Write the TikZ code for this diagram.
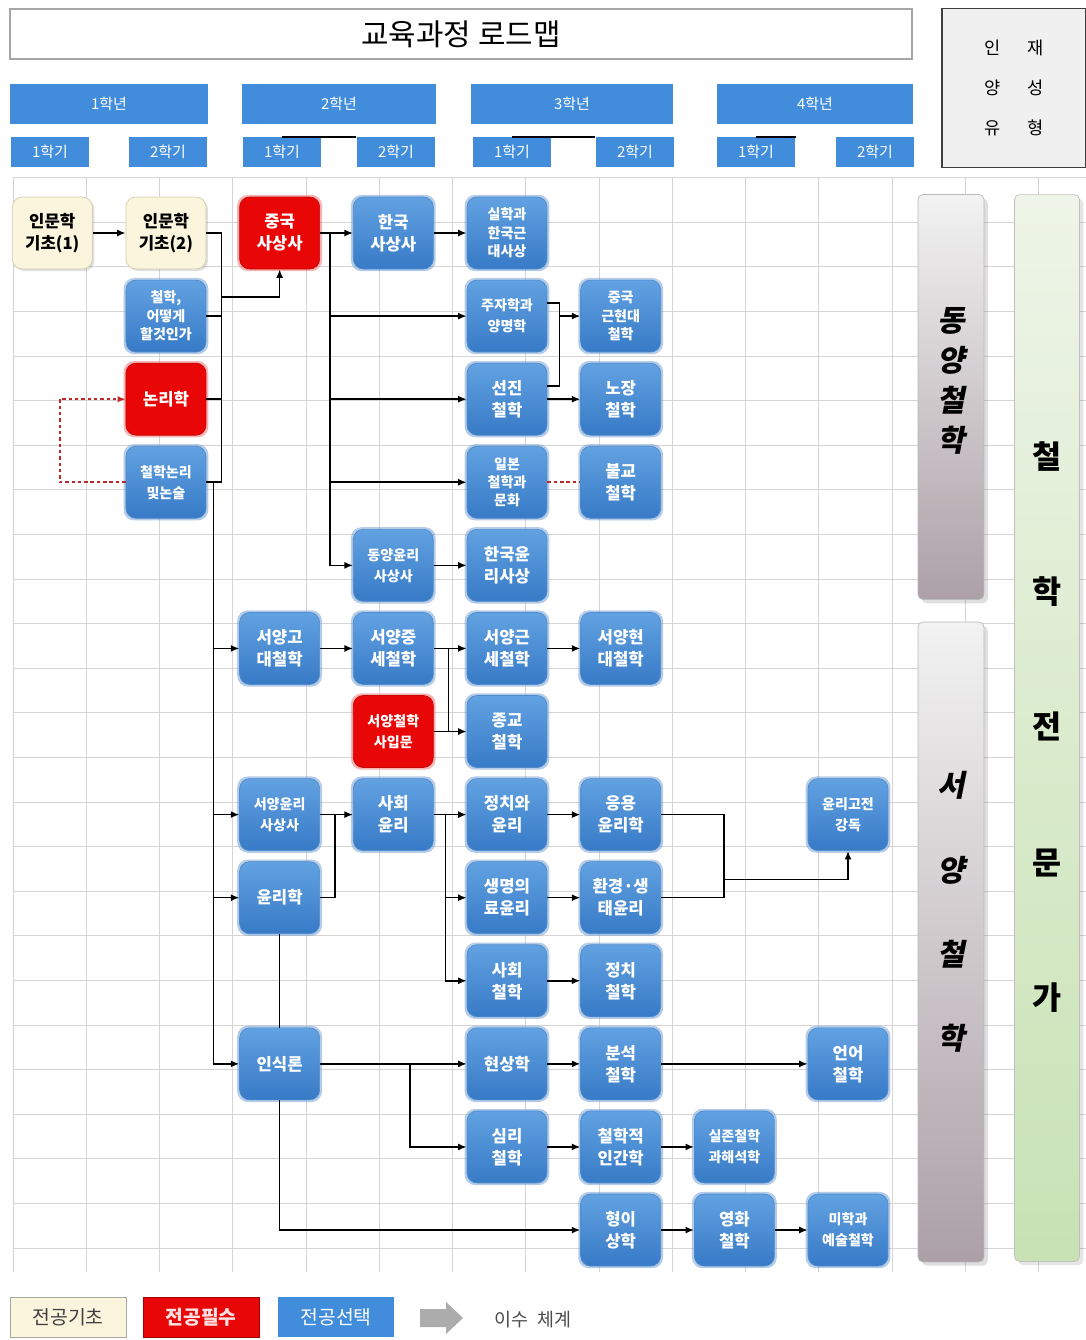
\documentclass[tikz,border=0pt]{standalone}
\usepackage{fontspec}
\newfontfamily\kr{Noto Sans CJK KR}
\newfontfamily\krslant[FakeSlant=0.2]{Noto Sans CJK KR}
\usepackage{tikz}
\usetikzlibrary{positioning,calc,shadows,arrows.meta}

\definecolor{courseTop}{RGB}{98,162,226}
\definecolor{courseBot}{RGB}{55,122,198}
\definecolor{courseEdge}{RGB}{80,140,205}
\definecolor{courseGlow}{RGB}{130,170,215}
\definecolor{reqRed}{RGB}{232,6,6}
\definecolor{reqGlow}{RGB}{240,130,130}
\definecolor{basicFill}{RGB}{251,245,222}
\definecolor{basicEdge}{RGB}{214,204,170}
\definecolor{hdrBlue}{RGB}{66,141,219}
\definecolor{gridGray}{RGB}{212,212,212}
\definecolor{barMauve}{RGB}{172,160,166}
\definecolor{expertTop}{RGB}{238,245,232}
\definecolor{expertBot}{RGB}{200,226,180}
\definecolor{dotRed}{RGB}{190,40,40}

\begin{document}
\begin{tikzpicture}[x=0.02cm, y=-0.02cm,
    node distance=0.208cm and 0.66cm,
    gridline/.style={draw=gridGray, line width=0.5pt},
    course/.style={rounded corners=2mm, minimum width=1.6cm, minimum height=1.44cm,
        inner sep=1pt, align=center, font=\kr\bfseries\fontsize{9.5}{12.5}\selectfont},
    elective/.style={course, top color=courseTop, bottom color=courseBot, draw=courseEdge,
        text=white, general shadow={fill=courseGlow, shadow scale=1.06, opacity=0.6}},
    required/.style={course, fill=reqRed, draw=reqRed!85!black, text=white,
        general shadow={fill=reqGlow, shadow scale=1.06, opacity=0.6}},
    basic/.style={course, fill=basicFill, draw=basicEdge, text=black,
        drop shadow={opacity=0.25, shadow xshift=0.4mm, shadow yshift=-0.4mm}},
    threeline/.style={font=\kr\bfseries\fontsize{8}{10.5}\selectfont},
    fourchar/.style={font=\kr\bfseries\fontsize{8}{12}\selectfont},
    hdr/.style={fill=hdrBlue, text=white, inner sep=0pt, font=\kr\fontsize{8.5}{8.5}\selectfont},
    groupbar/.style={rounded corners=1mm, minimum width=1.32cm, draw=gray!55,
        top color=gray!10, bottom color=barMauve, drop shadow={opacity=0.25}},
    grouplabel/.style={align=center, inner sep=0pt, font=\krslant\bfseries\fontsize{17}{22.7}\selectfont},
    legend/.style={minimum width=2.32cm, minimum height=0.8cm, inner sep=0pt,
        font=\kr\fontsize{11}{11}\selectfont},
    con/.style={line width=0.9pt},
    arr/.style={con, -{Latex[length=1.7mm, width=1.4mm]}},
    reddot/.style={draw=dotRed, line width=1.1pt, dash pattern=on 2pt off 1.6pt}
    ]
    \useasboundingbox (0,0) rectangle (1086,1340);
    \fill[white] (0,0) rectangle (1086,1340);

    % spreadsheet grid
    \foreach \gx in {0,...,14}
        \draw[gridline] ({13+73.25*\gx},178) -- ({13+73.25*\gx},1272);
    \foreach \gy in {0,...,24}
        \draw[gridline] (13,{177.6+44.6*\gy}) -- (1086,{177.6+44.6*\gy});

    % header
    \node (title) [draw=gray!70, line width=1pt, fill=white, minimum width=18.04cm, minimum height=1cm,
        font=\kr\fontsize{17}{17}\selectfont] at (461,34) {교육과정\ 로드맵};
    \node (talent) [draw=black!75, line width=1pt, fill=gray!12, minimum width=2.88cm, minimum height=3.18cm,
        align=center, font=\kr\fontsize{10}{22.7}\selectfont] at (1014,88)
        {인\hspace{15pt}재\\양\hspace{15pt}성\\유\hspace{15pt}형};
    \node (y1) [hdr, minimum width=3.96cm, minimum height=0.8cm] at (109,104) {1학년};
    \node (y2) [hdr, minimum width=3.88cm, minimum height=0.8cm] at (339,104) {2학년};
    \node (y3) [hdr, minimum width=4.04cm, minimum height=0.8cm] at (572,104) {3학년};
    \node (y4) [hdr, minimum width=3.92cm, minimum height=0.8cm] at (815,104) {4학년};
    \foreach \sx/\sname/\stext in {50/y1s1/1학기, 168/y1s2/2학기, 282/y2s1/1학기, 396/y2s2/2학기,
        512/y3s1/1학기, 635/y3s2/2학기, 756/y4s1/1학기, 875/y4s2/2학기}
        \node (\sname) [hdr, minimum width=1.58cm, minimum height=0.6cm] at (\sx,152) {\stext};
    \draw[line width=1pt] (y2s1.north) -- (y2s2.north west);
    \draw[line width=1pt] (y3s1.north) -- (y3s2.north west);
    \draw[line width=1pt] (y4s1.north) -- (y4s1.north east);

    % group bars on the right
    \node (eastbar) [groupbar, minimum height=8.1cm] at (951,397) {};
    \node (westbar) [groupbar, minimum height=12.8cm] at (951,942) {};
    \node (expertbar) [rounded corners=1mm, minimum width=1.3cm, minimum height=21.34cm, draw=gray!50,
        top color=expertTop, bottom color=expertBot, drop shadow={opacity=0.2}] at (1047,728) {};
    \node (east) [grouplabel] at (951,381) {동\\양\\철\\학};
    \node (west) [grouplabel, font=\krslant\bfseries\fontsize{17}{48}\selectfont] at (951,912) {서\\양\\철\\학};
    \node (expert) [align=center, inner sep=0pt, font=\kr\bfseries\fontsize{18}{77}\selectfont]
        at (1047,727) {철\\학\\전\\문\\가};

    % courses
    \node (silhak) [elective, threeline] at (507,233) {실학과\\한국근\\대사상};
    \node (hansa) [elective, left=of silhak] {한국\\사상사};
    \node (jungsa) [required, left=of hansa] {중국\\사상사};
    \node (inmun2) [basic, left=of jungsa] {인문학\\기초(2)};
    \node (inmun1) [basic, left=of inmun2] {인문학\\기초(1)};
    \node (ottoke) [elective, threeline, below=of inmun2] {철학,\\어떻게\\할것인가};
    \node (nonri) [required, below=of ottoke] {논리학};
    \node (nonsul) [elective, fourchar, below=of nonri] {철학논리\\및논술};
    \node (juja) [elective, fourchar, below=of silhak] {주자학과\\양명학};
    \node (jungkun) [elective, threeline, right=of juja] {중국\\근현대\\철학};
    \node (seonjin) [elective, below=of juja] {선진\\철학};
    \node (nojang) [elective, right=of seonjin] {노장\\철학};
    \node (ilbon) [elective, threeline, below=of seonjin] {일본\\철학과\\문화};
    \node (bulgyo) [elective, right=of ilbon] {불교\\철학};
    \node (hanyun) [elective, below=of ilbon] {한국윤\\리사상};
    \node (dongyun) [elective, fourchar, left=of hanyun] {동양윤리\\사상사};
    \node (segeun) [elective, below=of hanyun] {서양근\\세철학};
    \node (sejung) [elective, left=of segeun] {서양중\\세철학};
    \node (segodae) [elective, left=of sejung] {서양고\\대철학};
    \node (sehyun) [elective, right=of segeun] {서양현\\대철학};
    \node (jonggyo) [elective, below=of segeun] {종교\\철학};
    \node (seipmun) [required, fourchar, left=of jonggyo] {서양철학\\사입문};
    \node (jeongyun) [elective, below=of jonggyo] {정치와\\윤리};
    \node (sahoeyun) [elective, left=of jeongyun] {사회\\윤리};
    \node (seyun) [elective, fourchar, left=of sahoeyun] {서양윤리\\사상사};
    \node (eungyong) [elective, right=of jeongyun] {응용\\윤리학};
    \node (saengmyeong) [elective, below=of jeongyun] {생명의\\료윤리};
    \node (hwangyeong) [elective, right=of saengmyeong] {환경·생\\태윤리};
    \node (yunri) [elective, below=of seyun] {윤리학};
    \node (sahoecheol) [elective, below=of saengmyeong] {사회\\철학};
    \node (jeongcheol) [elective, right=of sahoecheol] {정치\\철학};
    \node (hyeonsang) [elective, below=of sahoecheol] {현상학};
    \node (bunseok) [elective, right=of hyeonsang] {분석\\철학};
    \node (insik) [elective] at (yunri |- hyeonsang) {인식론};
    \node (simri) [elective, below=of hyeonsang] {심리\\철학};
    \node (ingan) [elective, right=of simri] {철학적\\인간학};
    \node (siljon) [elective, fourchar, right=of ingan] {실존철학\\과해석학};
    \node (hyeongi) [elective, below=of ingan] {형이\\상학};
    \node (yeonghwa) [elective, right=of hyeongi] {영화\\철학};
    \node (mihak) [elective, fourchar, right=of yeonghwa] {미학과\\예술철학};
    \node (eoneo) [elective] at (mihak |- bunseok) {언어\\철학};
    \node (gojeon) [elective, fourchar] at (mihak |- eungyong) {윤리고전\\강독};

    % first year
    \draw[arr] (inmun1) -- (inmun2);
    \draw[con] (inmun2.east) -- ++(15,0) coordinate (bus1) -- (bus1 |- nonsul.east) -- (nonsul.east);
    \draw[con] (ottoke.east) -- (ottoke.east -| bus1);
    \draw[con] (nonri.east) -- (nonri.east -| bus1);
    \draw[arr] (bus1 |- 0,297) -| (jungsa.south);
    \draw[reddot, -{Latex[length=1.6mm, width=1.3mm]}] (nonsul.west) -- ++(-66,0) |- (nonri.west);
    \draw[arr] (nonsul.east) ++(7,0) coordinate (bus2) |- (insik.west);
    \draw[arr] (bus2 |- segodae.west) -- (segodae.west);
    \draw[arr] (bus2 |- seyun.west) -- (seyun.west);
    \draw[arr] (bus2 |- yunri.west) -- (yunri.west);

    % eastern philosophy
    \draw[arr] (jungsa) -- (hansa);
    \draw[arr] (hansa) -- (silhak);
    \draw[arr] (jungsa.east) ++(10,0) coordinate (bus3) |- (dongyun.west);
    \draw[arr] (bus3 |- juja.west) -- (juja.west);
    \draw[arr] (bus3 |- seonjin.west) -- (seonjin.west);
    \draw[arr] (bus3 |- ilbon.west) -- (ilbon.west);
    \draw[con] ([yshift=2.6mm]juja.east) -- ++(12,0) coordinate (bus4) |- ([yshift=2.6mm]seonjin.east);
    \draw[arr] (bus4 |- jungkun.west) -- (jungkun.west);
    \draw[arr] (seonjin) -- (nojang);
    \draw[reddot] (ilbon) -- (bulgyo);
    \draw[arr] (dongyun) -- (hanyun);

    % western philosophy
    \draw[arr] (segodae) -- (sejung);
    \draw[arr] (sejung) -- (segeun);
    \draw[arr] (seipmun) -- (jonggyo);
    \draw[con] ([xshift=3mm]sejung.east) -- ([xshift=3mm]seipmun.east);
    \draw[arr] (segeun) -- (sehyun);

    % ethics
    \draw[arr] (seyun) -- (sahoeyun);
    \draw[con] (yunri.east) -| ([xshift=3mm]seyun.east);
    \draw[arr] (sahoeyun) -- (jeongyun);
    \draw[arr] ([xshift=2.4mm]sahoeyun.east) |- (saengmyeong.west);
    \draw[arr] ([xshift=2.4mm]sahoeyun.east) |- (sahoecheol.west);
    \draw[arr] (jeongyun) -- (eungyong);
    \draw[arr] (saengmyeong) -- (hwangyeong);
    \draw[arr] (sahoecheol) -- (jeongcheol);
    \draw[con] (eungyong.east) -- ++(63,0) coordinate (bus6) |- (hwangyeong.east);
    \draw[arr] ($(bus6)!0.78!(bus6 |- hwangyeong.east)$) -| (gojeon.south);

    % epistemology and the rest
    \draw[con] (yunri) -- (insik);
    \draw[arr] (insik) -- (hyeonsang);
    \draw[arr] ([xshift=18mm]insik.east) |- (simri.west);
    \draw[arr] (insik.south) |- (hyeongi.west);
    \draw[arr] (hyeonsang) -- (bunseok);
    \draw[arr] (bunseok) -- (eoneo);
    \draw[arr] (simri) -- (ingan);
    \draw[arr] (ingan) -- (siljon);
    \draw[arr] (hyeongi) -- (yeonghwa);
    \draw[arr] (yeonghwa) -- (mihak);

    % legend
    \node (legbasic) [legend, fill=basicFill, draw=gray!70, text=black!75] at (68,1317) {전공기초};
    \node (legreq) [legend, fill=reqRed, draw=reqRed!70!black, text=red!12, font=\kr\bfseries\fontsize{11}{11}\selectfont] at (201,1317) {전공필수};
    \node (legsel) [legend, fill=hdrBlue, text=white] at (336,1317) {전공선택};
    \fill[gray!65] (420,1309) -- (446,1309) -- (446,1302) -- (463,1318) -- (446,1334) -- (446,1327) -- (420,1327) -- cycle;
    \node (legflow) [text=black!70, font=\kr\fontsize{10.5}{10.5}\selectfont] at (533,1320) {이수\ \ 체계};
\end{tikzpicture}
\end{document}
